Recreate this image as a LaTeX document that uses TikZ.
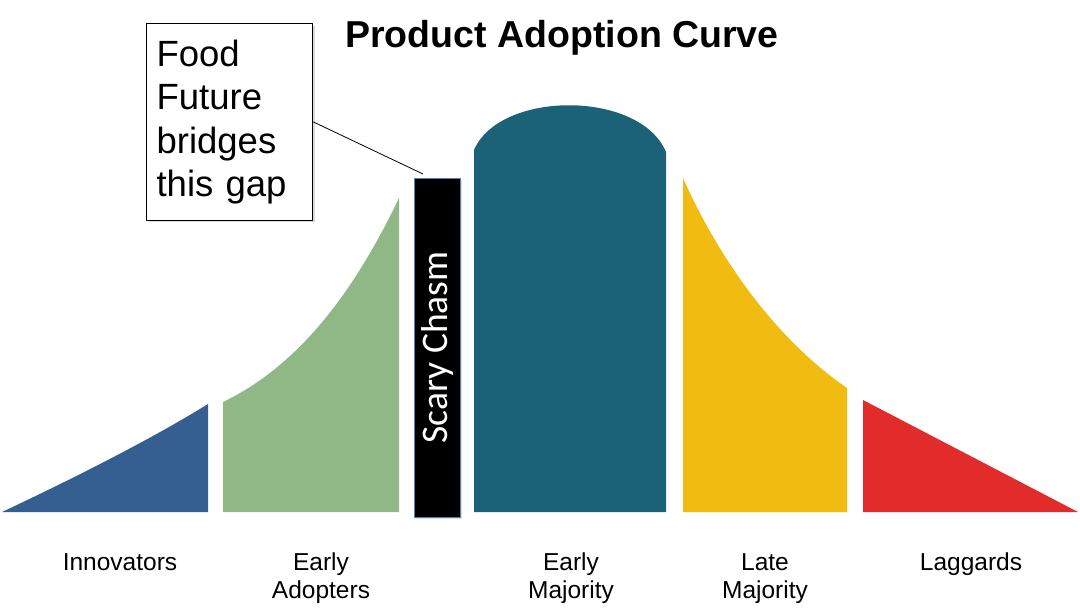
\documentclass[tikz,border=0pt]{standalone}
\usepackage{fontspec}
\setmainfont{Liberation Sans}
\newfontfamily\chasmfont{Carlito}
\usetikzlibrary{shadows}
\definecolor{innovblue}{HTML}{365F91}
\definecolor{adoptgreen}{HTML}{8FB886}
\definecolor{majteal}{HTML}{1B6278}
\definecolor{lateyellow}{HTML}{F0BC12}
\definecolor{lagred}{HTML}{E22C2C}
\definecolor{chasmedge}{HTML}{4F81BD}
\tikzset{
  groupname/.style={anchor=north, align=center, inner sep=0pt,
    font=\fontsize{24.5}{28}\selectfont},
  chasmbox/.style={draw=chasmedge, line width=0.8pt, fill=black, inner sep=0pt,
    minimum width=46pt, minimum height=339pt, text=white,
    font=\chasmfont\fontsize{37.5}{40}\selectfont,
    drop shadow={shadow xshift=1.5pt, shadow yshift=-2pt, opacity=0.25}},
  calloutbox/.style={draw=black, line width=1.2pt, fill=white, anchor=north west,
    align=left, text width=146pt, inner xsep=10pt, inner ysep=16pt,
    font=\fontsize{36.5}{43.5}\selectfont,
    drop shadow={shadow xshift=2pt, shadow yshift=-2pt, opacity=0.3}}
}
\begin{document}
\begin{tikzpicture}[x=1pt, y=-1pt]
  \useasboundingbox (0,0) rectangle (1080,613);
  %title
  \node[anchor=base, font=\bfseries\fontsize{37.5}{40}\selectfont] (title) at (562,47) {Product Adoption Curve};
  %innovators
  \fill[innovblue] (2,512) .. controls (70,480) and (150,440) .. (208,404) -- (208,512) -- cycle;
  %early adopters
  \fill[adoptgreen] (223,402) .. controls (300,365) and (355,290) .. (399,198) -- (399,512) -- (223,512) -- cycle;
  %early majority
  \fill[majteal] (474,512) -- (474,150) .. controls (500,90) and (640,90) .. (666,152) -- (666,512) -- cycle;
  %late majority
  \fill[lateyellow] (683,512) -- (683,178) .. controls (715,250) and (770,335) .. (847,388) -- (847,512) -- cycle;
  %laggards
  \fill[lagred] (863,512) -- (863,400) -- (1078,512) -- cycle;
  %chasm
  \node[chasmbox] (chasm) at (437,347.5) {\rotatebox{90}{Scary Chasm}};
  %callout
  \node[calloutbox] (callout) at (146,23) {Food\\Future\\bridges\\this gap};
  \coordinate (pointer) at (423,174);
  \draw[line width=0.8pt] (callout.east) -- (pointer);
  %group names
  \node[groupname] (innovators) at (120,553) {Innovators};
  \node[groupname] (adopters) at (321,553) {Early\\Adopters};
  \node[groupname] (earlymaj) at (571,553) {Early\\Majority};
  \node[groupname] (latemaj) at (765,553) {Late\\Majority};
  \node[groupname] (laggards) at (971,553) {Laggards};
\end{tikzpicture}
\end{document}
